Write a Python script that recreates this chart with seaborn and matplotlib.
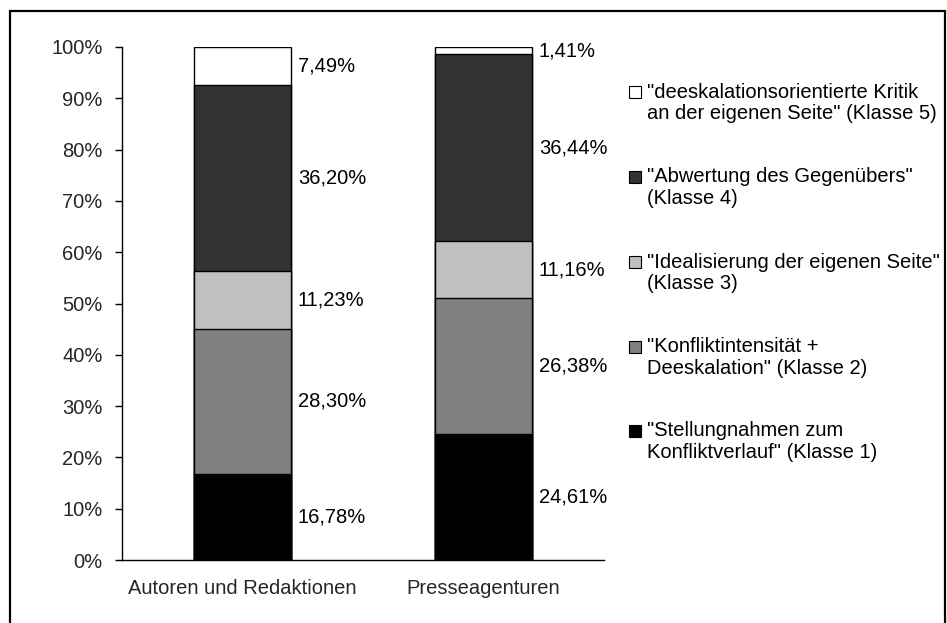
import matplotlib
matplotlib.use("Agg")
import matplotlib.pyplot as plt
from matplotlib.patches import Rectangle
import numpy as np
import pandas as pd
import seaborn as sns

categories = ["Autoren und Redaktionen", "Presseagenturen"]
klasse1 = [16.78, 24.61]
klasse2 = [28.30, 26.38]
klasse3 = [11.23, 11.16]
klasse4 = [36.20, 36.44]
klasse5 = [7.49, 1.41]
series_colors = ["#000000", "#808080", "#c0c0c0", "#333333", "#ffffff"]
legend_labels = [
    ['"deeskalationsorientierte Kritik', 'an der eigenen Seite" (Klasse 5)'],
    ['"Abwertung des Gegenübers"', '(Klasse 4)'],
    ['"Idealisierung der eigenen Seite"', '(Klasse 3)'],
    ['"Konfliktintensität +', 'Deeskalation" (Klasse 2)'],
    ['"Stellungnahmen zum', 'Konfliktverlauf" (Klasse 1)'],
]
yticks = [0, 10, 20, 30, 40, 50, 60, 70, 80, 90, 100]

sns.set_theme(style="white")
plt.rcParams['font.family'] = ['Liberation Sans', 'DejaVu Sans']
FS = 14.5

W, H = 947, 623
fig = plt.figure(figsize=(W / 100, H / 100), dpi=100)
ax = fig.add_axes([122 / W, 63 / H, (604 - 122) / W, (560 - 47) / H])

series = [klasse1, klasse2, klasse3, klasse4, klasse5]
cum = np.cumsum(np.array(series), axis=0)  # shape 5 x 2

# draw from top (cumulative total) down so lower segments overlay
for i in range(4, -1, -1):
    df = pd.DataFrame({"cat": categories, "val": cum[i]})
    sns.barplot(data=df, x="cat", y="val", color=series_colors[i],
                saturation=1, width=0.4, edgecolor="black", linewidth=1.0,
                ax=ax, order=categories)

# value labels
for j in range(len(categories)):
    bottoms = np.concatenate([[0], cum[:-1, j]])
    for i in range(5):
        v = series[i][j]
        yc = bottoms[i] + v / 2
        ax.text(j + 0.2 + 0.03, yc, f"{v:.2f}%".replace(".", ","),
                fontsize=FS, va="center", ha="left", color="black")

ax.set_xlim(-0.5, 1.5)
ax.set_ylim(0, 100)
ax.set_yticks(yticks)
ax.set_yticklabels([f"{t}%" for t in yticks], fontsize=FS)
ax.set_xticks([0, 1])
ax.set_xticklabels(categories, fontsize=FS)
ax.set_xticks([-0.5, 0.5, 1.5], minor=True)
ax.tick_params(axis="x", which="major", length=0, pad=14)
ax.tick_params(axis="x", which="minor", length=5, width=1, direction="out", color="black")
ax.tick_params(axis="y", which="major", length=5, width=1, direction="out", color="black", pad=9, left=True)
ax.set_xlabel("")
ax.set_ylabel("")
for s in ["top", "right"]:
    ax.spines[s].set_visible(False)
for s in ["left", "bottom"]:
    ax.spines[s].set_color("black")
    ax.spines[s].set_linewidth(1.0)

# manual legend
entry_y = [92, 177, 262, 347, 431]
line_gap = 21.5
legend_colors = series_colors[::-1]
for k, (lines, col) in enumerate(zip(legend_labels, legend_colors)):
    y1 = entry_y[k]
    fig.patches.append(Rectangle((629 / W, 1 - (y1 + 6) / H), 12 / W, 12 / H,
                                 transform=fig.transFigure, facecolor=col,
                                 edgecolor="black", linewidth=0.8))
    for li, t in enumerate(lines):
        fig.text(647 / W, 1 - (y1 + li * line_gap) / H, t, fontsize=FS,
                 va="center", ha="left", color="black")

# outer border
fig.patches.append(Rectangle((10 / W, -0.05), (945 - 10) / W, 1.05 - 11 / H,
                             transform=fig.transFigure, fill=False,
                             edgecolor="black", linewidth=1.6))

fig.savefig("out.png", dpi=100)
